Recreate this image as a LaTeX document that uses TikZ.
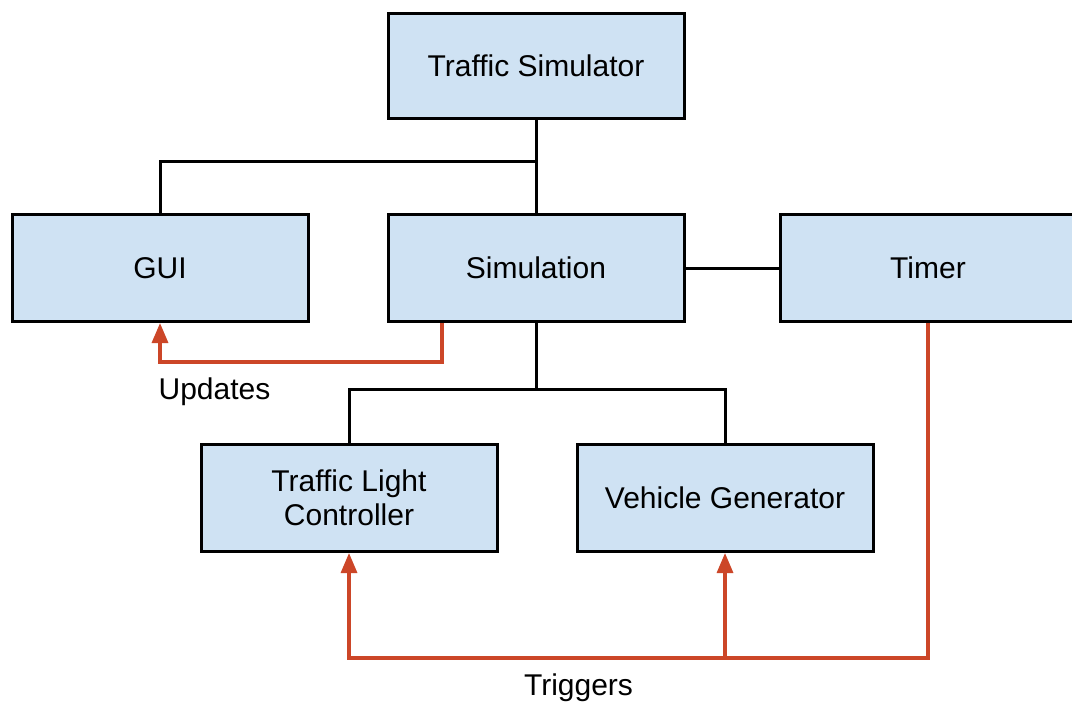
\documentclass[tikz,border=0pt]{standalone}
\usepackage{fontspec}
\setmainfont{Liberation Sans}
\usetikzlibrary{arrows.meta}
\definecolor{boxfill}{RGB}{207,226,243}
\definecolor{arrowred}{RGB}{204,70,40}
\begin{document}
\begin{tikzpicture}[x=1pt,y=-1pt,
  blk/.style={draw=black,line width=3pt,fill=boxfill,minimum width=296pt,minimum height=107pt,inner sep=0pt,align=center,font=\fontsize{30}{34}\selectfont},
  link/.style={draw=black,line width=3pt},
  trig/.style={draw=arrowred,line width=3.2pt,-{Triangle[length=20pt,width=16pt]}},
  lbl/.style={font=\fontsize{30}{34}\selectfont,anchor=base,inner sep=0pt}]
\useasboundingbox (0,0) rectangle (1072,705);
\clip (0,0) rectangle (1072,705);
\fill[white] (0,0) rectangle (1072,705);
\node[blk,minimum height=105pt] (ts) at (536,65.5) {Traffic Simulator};
\node[blk] (gui) at (160,268) {GUI};
\node[blk] (sim) at (536,268) {Simulation};
\node[blk] (timer) at (928,268) {Timer};
\node[blk] (tlc) at (349,498) {Traffic Light\\Controller};
\node[blk] (vg) at (725,498) {Vehicle Generator};
\coordinate (j1) at (536,161);
\coordinate (j2) at (536,389);
\coordinate (u1) at (160,362);
\coordinate (t2) at (349,658);
\coordinate (t3) at (725,658);
\draw[link] (ts.south) -- (sim.north);
\draw[link] (gui.north) |- (j1);
\draw[link] (sim.east) -- (timer.west);
\draw[link] (sim.south) -- (j2);
\draw[link] (tlc.north) |- (j2) -| (vg.north);
\draw[trig] ([xshift=-94pt]sim.south) |- (u1) -- (gui.south);
\draw[trig] (timer.south) |- (t2) -- (tlc.south);
\draw[trig] (t3) -- (vg.south);
\node[lbl] (upd) at (214.5,399) {Updates};
\node[lbl] (trg) at (578.5,695) {Triggers};
\end{tikzpicture}
\end{document}
